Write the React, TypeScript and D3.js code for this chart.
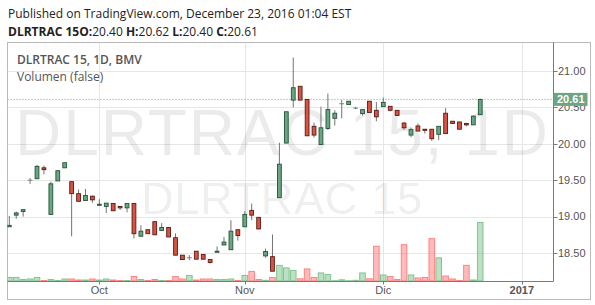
import React from 'react';
import * as d3 from 'd3';

const opens = [18.86, 19.02, 19.07, 19.50, 19.52, 19.67, 19.03, 19.49, 19.67, 19.48,
  19.315, 19.22, 19.28, 19.155, 19.14, 19.18, 19.14, 19.12, 19.18, 18.73,
  18.82, 18.93, 18.81, 18.85, 18.71, 18.47, 18.435, 18.525, 18.48, 18.41,
  18.51, 18.61, 18.545, 18.82, 18.86, 19.085, 18.99, 18.46, 18.45, 19.26,
  20.01, 20.60, 20.79, 20.61, 20.24, 19.99, 20.21, 20.35, 20.55, 20.54,
  20.49, 20.415, 20.585, 20.46, 20.51, 20.515, 20.46, 20.285, 20.12, 20.245,
  20.20, 20.20, 20.13, 20.42, 20.31, 20.30, 20.28, 20.26, 20.40];
const closes = [18.88, 19.05, 19.095, 19.50, 19.69, 19.645, 19.45, 19.63, 19.74, 19.315,
  19.21, 19.29, 19.23, 19.17, 19.185, 19.08, 19.12, 19.18, 18.765, 18.80,
  18.765, 18.75, 18.85, 18.72, 18.47, 18.41, 18.435, 18.415, 18.415, 18.37,
  18.525, 18.65, 18.80, 18.74, 19.03, 19.02, 18.83, 18.52, 18.25, 19.72,
  20.44, 20.77, 20.60, 20.11, 20.12, 20.22, 20.47, 20.42, 20.55, 20.585,
  20.49, 20.47, 20.43, 20.37, 20.57, 20.46, 20.39, 20.22, 20.195, 20.175,
  20.185, 20.07, 20.24, 20.14, 20.28, 20.20, 20.26, 20.38, 20.61];
const highs = [19.01, 19.07, 19.10, 19.53, 19.71, 19.70, 19.48, 19.64, 19.74, 19.48,
  19.37, 19.38, 19.29, 19.24, 19.185, 19.18, 19.14, 19.18, 19.18, 18.88,
  18.82, 18.93, 18.91, 18.85, 18.77, 18.47, 18.47, 18.525, 18.48, 18.41,
  18.59, 18.72, 18.95, 18.82, 19.075, 19.18, 18.99, 18.56, 18.755, 20.015,
  20.44, 21.185, 20.79, 20.61, 20.29, 20.51, 20.69, 20.46, 20.60, 20.585,
  20.51, 20.47, 20.585, 20.575, 20.635, 20.515, 20.46, 20.30, 20.22, 20.28,
  20.20, 20.20, 20.24, 20.49, 20.31, 20.30, 20.28, 20.39, 20.62];
const lows = [18.86, 18.97, 19.00, 19.45, 19.52, 19.58, 19.03, 19.49, 19.67, 18.73,
  19.21, 19.22, 19.19, 19.155, 19.05, 19.08, 19.09, 19.06, 18.70, 18.73,
  18.765, 18.75, 18.81, 18.72, 18.47, 18.41, 18.40, 18.415, 18.415, 18.355,
  18.51, 18.61, 18.545, 18.67, 18.86, 18.95, 18.83, 18.435, 18.25, 19.26,
  20.01, 20.50, 20.60, 20.11, 20.085, 19.99, 20.19, 20.25, 20.35, 20.54,
  20.475, 20.39, 20.43, 20.31, 20.51, 20.445, 20.39, 20.19, 20.09, 20.175,
  20.14, 20.04, 20.05, 20.14, 20.28, 20.20, 20.24, 20.26, 20.40];
const volumes = [35, 35, 15, 20, 35, 5, 15, 5, 20, 20,
  10, 10, 20, 10, 20, 10, 5, 5, 45, 15,
  5, 15, 5, 5, 45, 20, 55, 10, 20, 20,
  15, 15, 20, 5, 55, 95, 15, 7, 35, 155,
  130, 105, 22, 120, 35, 80, 65, 3, 12, 3,
  7, 80, 22, 345, 60, 45, 15, 360, 60, 30,
  35, 420, 230, 50, 20, 5, 155, 10, 580];

const priceTicks = [18.5, 19, 19.5, 20, 20.5, 21];
const timeLabels = ['Oct', 'Nov', 'Dic', '2017'];
const timeLabelBars = [13, 34, 54, 74];
const lastPrice = 20.61;

const UP = '#6ba583';
const UP_BORDER = '#225437';
const DOWN = '#d75442';
const DOWN_BORDER = '#5b1a13';
const WICK = '#737375';

export default function App() {
  const W = 595, H = 305;
  const plotL = 7.5, plotT = 42.5, plotR = 553.5, plotB = 281.5;
  const x = d3.scaleLinear().domain([0, 74]).range([9.3, 521.8]);
  const y = d3.scaleLinear().domain([18.5, 21]).range([253, 71]);
  const yv = d3.scaleLinear().domain([0, 580]).range([281, 222.5]);
  const fmt = d3.format('.2f');
  const bodyW = 3.8;
  const volW = 5.6;
  const idx = d3.range(opens.length);

  return (
    <svg width={W} height={H} style={{ position: 'absolute', left: 0, top: 0, background: '#fff' }}
      fontFamily="'Open Sans', 'Liberation Sans', Arial, sans-serif">
      <defs>
        <clipPath id="plotClip">
          <rect x={plotL} y={plotT} width={plotR - plotL} height={plotB - plotT} />
        </clipPath>
      </defs>
      {/* header */}
      <text x={8} y={18} fontSize={12} fill="#222">Published on TradingView.com, December 23, 2016 01:04 EST</text>
      <text x={8} y={35.5} fontSize={12} fill="#222">
        <tspan fontWeight="bold">DLRTRAC 15O:</tspan>
        <tspan>20.40 </tspan>
        <tspan fontWeight="bold">H:</tspan>
        <tspan>20.62 </tspan>
        <tspan fontWeight="bold">L:</tspan>
        <tspan>20.40 </tspan>
        <tspan fontWeight="bold">C:</tspan>
        <tspan>20.61</tspan>
      </text>

      {/* outer frame */}
      <rect x={7.5} y={42.5} width={583} height={257} fill="none" stroke="#b9b9b9" />

      <g clipPath="url(#plotClip)">
        {/* gridlines */}
        {priceTicks.map(p => (
          <line key={'hg' + p} x1={plotL} x2={plotR} y1={Math.round(y(p)) + 0.5} y2={Math.round(y(p)) + 0.5} stroke="#e6e6e6" />
        ))}
        {timeLabelBars.map(b => (
          <line key={'vg' + b} x1={Math.round(x(b)) + 0.5} x2={Math.round(x(b)) + 0.5} y1={plotT} y2={plotB} stroke="#e6e6e6" />
        ))}
        {/* watermark */}
        <text x={15} y={155} fontSize={64} fill="#000" fillOpacity={0.08} textLength={533} lengthAdjust="spacing"
          fontFamily="'Liberation Sans', Arial, sans-serif">DLRTRAC 15, 1D</text>
        <text x={141} y={214} fontSize={45} fill="#000" fillOpacity={0.08} textLength={281} lengthAdjust="spacing"
          fontFamily="'Liberation Sans', Arial, sans-serif">DLRTRAC 15</text>
        {/* volume */}
        {idx.map(i => {
          const up = closes[i] >= opens[i];
          const top = yv(volumes[i]);
          return (
            <rect key={'v' + i} x={x(i) - volW / 2} y={top} width={volW} height={Math.max(0.5, yv(0) - top)}
              fill={up ? 'rgba(120,195,135,0.5)' : 'rgba(255,120,120,0.5)'}
              stroke={up ? 'rgba(110,185,125,0.8)' : 'rgba(255,110,110,0.8)'} strokeWidth={1} />
          );
        })}
        {/* last price line */}
        <line x1={plotL} x2={plotR} y1={y(lastPrice)} y2={y(lastPrice)} stroke={UP} strokeDasharray="1 2" />
        {/* candles */}
        {idx.map(i => {
          const o = opens[i], c = closes[i];
          const up = c >= o;
          const doji = Math.abs(c - o) < 0.001;
          const cx = x(i);
          const top = y(Math.max(o, c));
          const bot = y(Math.min(o, c));
          return (
            <g key={'c' + i}>
              <line x1={cx} x2={cx} y1={y(highs[i])} y2={y(lows[i])} stroke={WICK} strokeWidth={1} />
              {doji ? (
                <line x1={cx - bodyW / 2 - 0.5} x2={cx + bodyW / 2 + 0.5} y1={top} y2={top} stroke="#6f8a7a" strokeWidth={1} />
              ) : (
                <rect x={cx - bodyW / 2} y={top} width={bodyW} height={Math.max(0.6, bot - top)}
                  fill={up ? UP : DOWN} stroke={up ? UP_BORDER : DOWN_BORDER} strokeWidth={0.9} />
              )}
            </g>
          );
        })}
      </g>

      {/* legend */}
      <text x={17} y={64} fontSize={12} fontWeight={600} fill="#555">DLRTRAC 15, 1D, BMV</text>
      <text x={17} y={81} fontSize={12} fill="#555">Volumen (false)</text>

      {/* axes borders */}
      <line x1={plotR} x2={plotR} y1={plotT} y2={plotB} stroke="#7a7a7a" />
      <line x1={plotL} x2={plotR} y1={plotB} y2={plotB} stroke="#7a7a7a" />

      {/* price axis */}
      {priceTicks.map(p => (
        <g key={'pt' + p}>
          <line x1={plotR} x2={plotR + 4} y1={Math.round(y(p)) + 0.5} y2={Math.round(y(p)) + 0.5} stroke="#7a7a7a" />
          <text x={558} y={y(p)} dy="0.35em" fontSize={11} fill="#555"
            fontFamily="'Liberation Sans', Arial, sans-serif">{fmt(p)}</text>
        </g>
      ))}
      {/* last price label */}
      <rect x={plotR} y={y(lastPrice) - 6.5} width={34} height={13} fill={UP} />
      <text x={557} y={y(lastPrice)} dy="0.35em" fontSize={11} fontWeight="bold" fill="#fff"
        fontFamily="'Liberation Sans', Arial, sans-serif">{fmt(lastPrice)}</text>

      {/* time axis */}
      {timeLabelBars.map((b, k) => (
        <g key={'tl' + b}>
          <line x1={Math.round(x(b)) + 0.5} x2={Math.round(x(b)) + 0.5} y1={plotB} y2={plotB + 3} stroke="#7a7a7a" />
          <text x={x(b)} y={294} textAnchor="middle" fontSize={11} fill="#555"
            fontWeight={timeLabels[k] === '2017' ? 'bold' : 'normal'}
            fontFamily="'Liberation Sans', Arial, sans-serif">{timeLabels[k]}</text>
        </g>
      ))}
    </svg>
  );
}
